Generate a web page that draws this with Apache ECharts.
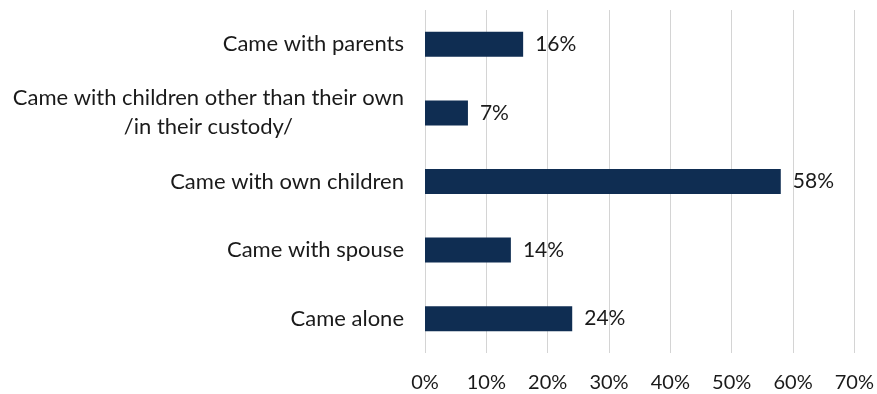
<!DOCTYPE html>
<html>
<head>
<meta charset="utf-8">
<script src="https://cdn.jsdelivr.net/npm/echarts@6/dist/echarts.min.js"></script>
<style>
  html, body { margin: 0; padding: 0; background: #fff; }
  #chart { width: 877px; height: 394px; }
</style>
</head>
<body>
<div id="chart"></div>
<script>
// Categories listed bottom to top (category axis on y starts at the bottom)
const categories = [
  'Came alone',
  'Came with spouse',
  'Came with own children',
  'Came with children other than their own\n/in their custody/',
  'Came with parents'
];
const shares = [24, 14, 58, 7, 16];
const tickLabels = ['0%', '10%', '20%', '30%', '40%', '50%', '60%', '70%'];

const FONT = 'Lato, "Open Sans", sans-serif';
const chart = echarts.init(document.getElementById('chart'));

chart.setOption({
  animation: false,
  backgroundColor: '#ffffff',
  grid: { left: 425, right: 22, top: 10, bottom: 41 },
  xAxis: {
    type: 'value',
    min: 0,
    max: 70,
    interval: 10,
    axisLine: { show: false },
    axisTick: { show: false },
    splitLine: { lineStyle: { color: '#d4d4d4', width: 1 } },
    axisLabel: {
      margin: 20,
      color: '#1a1a1a',
      fontFamily: FONT,
      fontSize: 20,
      formatter: (v) => tickLabels[Math.round(v / 10)]
    }
  },
  yAxis: {
    type: 'category',
    data: categories,
    axisLine: { show: false },
    axisTick: { show: false },
    axisLabel: {
      margin: 21,
      color: '#1a1a1a',
      fontFamily: FONT,
      fontSize: 22,
      lineHeight: 29,
      formatter: (v) => v.split('\n').map(s => '{c|' + s + '}').join('\n'),
      rich: {
        c: { align: 'center', fontFamily: FONT, fontSize: 22, lineHeight: 29, color: '#1a1a1a' }
      }
    }
  },
  series: [{
    type: 'bar',
    data: shares,
    barWidth: 25,
    itemStyle: { color: '#0f2d52' },
    label: {
      show: true,
      position: 'right',
      distance: 12,
      color: '#1a1a1a',
      fontFamily: FONT,
      fontSize: 21,
      formatter: (p) => p.value + '%'
    }
  }]
});
</script>
</body>
</html>
